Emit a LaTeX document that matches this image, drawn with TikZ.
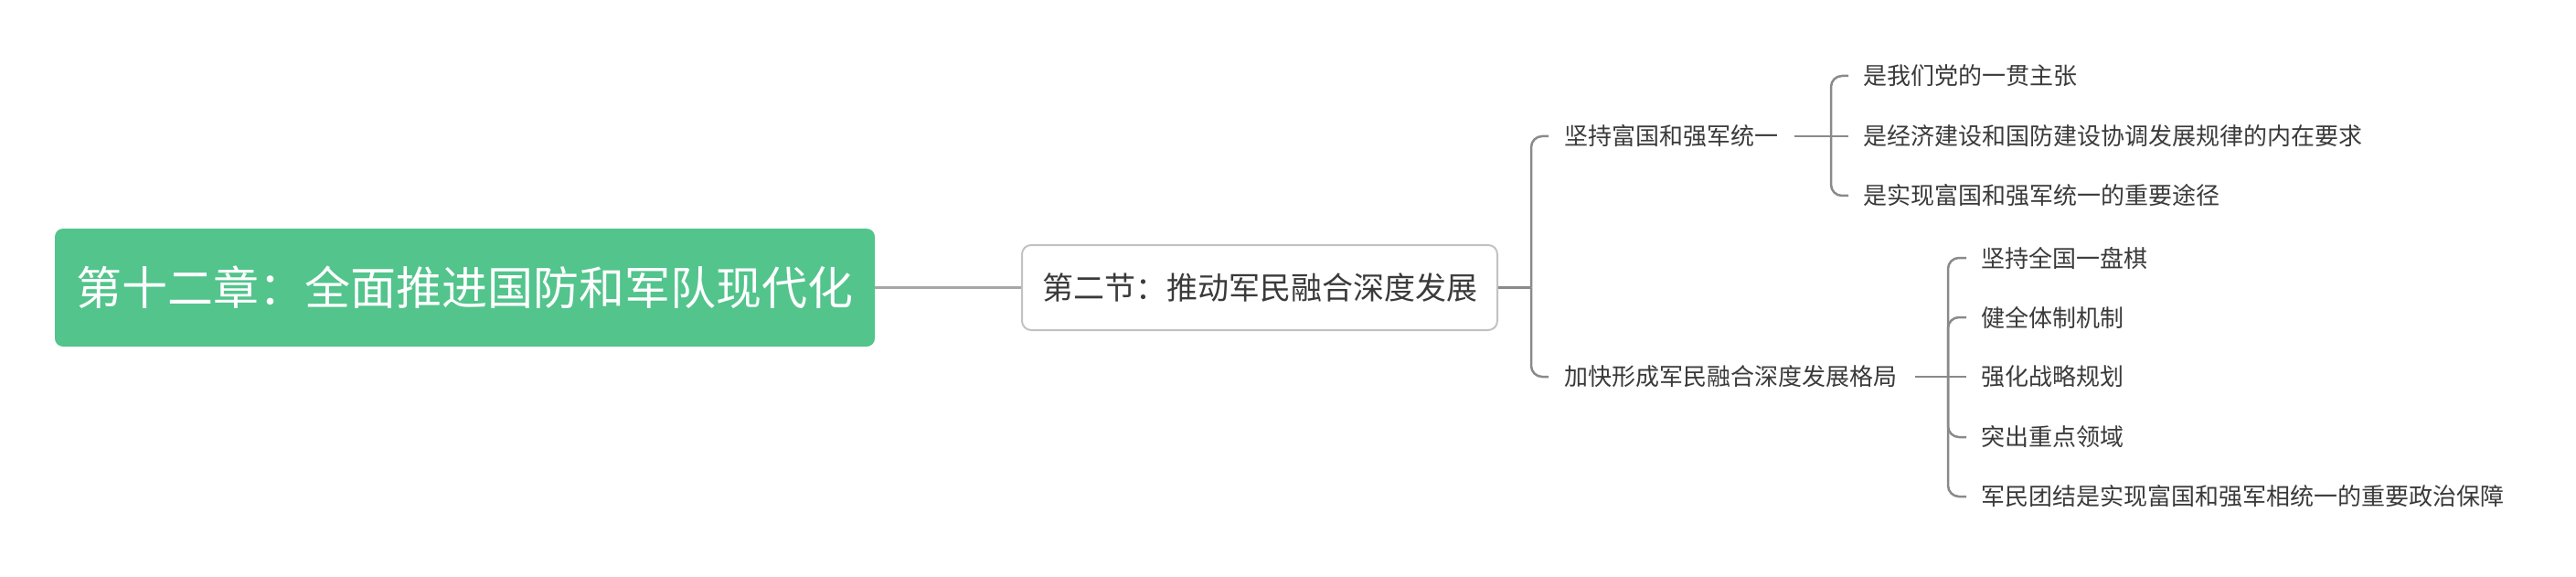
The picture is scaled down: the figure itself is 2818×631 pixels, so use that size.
\documentclass[tikz,border=0pt]{standalone}
\usepackage{fontspec}
\setmainfont{Noto Sans CJK SC}
\usetikzlibrary{calc}
\definecolor{rootgreen}{HTML}{52C48C}
\definecolor{txtgray}{HTML}{3A3A3A}
\definecolor{linegray}{HTML}{8A8A8A}
\definecolor{boxgray}{HTML}{C2C2C2}
\tikzset{
  rootbox/.style={rectangle, rounded corners=9pt, fill=rootgreen, text=white, inner sep=0pt,
    minimum width=897pt, minimum height=129pt, font=\fontsize{50}{60}\selectfont},
  secbox/.style={rectangle, rounded corners=10pt, draw=boxgray, line width=2pt, fill=white,
    text=txtgray, inner sep=0pt, minimum width=520pt, minimum height=93pt,
    font=\fontsize{34}{40}\selectfont},
  topic/.style={anchor=west, inner sep=0pt, text=txtgray, font=\fontsize{26}{31}\selectfont},
  conn/.style={draw=linegray, line width=2.5pt, rounded corners=12pt},
  mainline/.style={draw=linegray!75, line width=2.5pt}
}
\begin{document}
\begin{tikzpicture}[x=1pt,y=-1pt]
\useasboundingbox (0,0) rectangle (2818,631);
\node[rootbox] (root) at (508.5,314.5) {第十二章：全面推进国防和军队现代化};
\node[secbox] (sec) at (1378,314.5) {第二节：推动军民融合深度发展};
\draw[mainline] (root.east) -- (sec.west);

\node[topic] (c1) at (1711,149) {坚持富国和强军统一};
\node[topic] (c2) at (1711,412) {加快形成军民融合深度发展格局};
\coordinate (j0) at (1675,314.5);
\draw[conn] (sec.east) -- (j0);
\draw[conn] (j0) |- ($(c1.west)+(-17,0)$);
\draw[conn] (j0) |- ($(c2.west)+(-17,0)$);

\node[topic] (a1) at (2038,83) {是我们党的一贯主张};
\node[topic] (a2) at (2038,149) {是经济建设和国防建设协调发展规律的内在要求};
\node[topic] (a3) at (2038,214) {是实现富国和强军统一的重要途径};
\coordinate (j1) at (2003,149);
\draw[conn] ($(c1.east)+(18,0)$) -- (j1);
\draw[conn] (j1) |- ($(a1.west)+(-16,0)$);
\draw[conn] (j1) -- ($(a2.west)+(-16,0)$);
\draw[conn] (j1) |- ($(a3.west)+(-16,0)$);

\node[topic] (b1) at (2167,282) {坚持全国一盘棋};
\node[topic] (b2) at (2167,347) {健全体制机制};
\node[topic] (b3) at (2167,412) {强化战略规划};
\node[topic] (b4) at (2167,478) {突出重点领域};
\node[topic] (b5) at (2167,543) {军民团结是实现富国和强军相统一的重要政治保障};
\coordinate (j2) at (2131,412);
\draw[conn] ($(c2.east)+(20,0)$) -- (j2);
\draw[conn] (j2) |- ($(b1.west)+(-16,0)$);
\draw[conn] (j2) |- ($(b2.west)+(-16,0)$);
\draw[conn] (j2) -- ($(b3.west)+(-16,0)$);
\draw[conn] (j2) |- ($(b4.west)+(-16,0)$);
\draw[conn] (j2) |- ($(b5.west)+(-16,0)$);
\end{tikzpicture}
\end{document}
